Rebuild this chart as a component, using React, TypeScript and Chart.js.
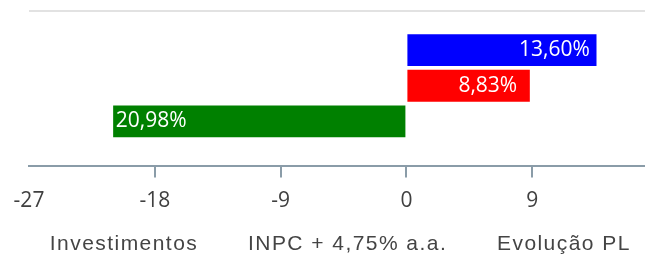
import React, { useEffect, useRef } from 'react';
import { Chart, registerables } from 'chart.js';

Chart.register(...registerables);

// ---- data ----
const categories = [''];
const seriesNames = ['Evolução PL', 'INPC + 4,75% a.a.', 'Investimentos'];
const evolucaoPL = [13.6];
const inpc = [8.83];
const investimentos = [-20.98];
const seriesColors = ['#0000ff', '#ff0000', '#008000'];
const xTickValues = [-27, -18, -9, 0, 9];
const X_MIN = -27;
const X_MAX = 18;

const AXIS_COLOR = '#8a9ca8';
const TEXT_COLOR = '#404040';
const LEGEND_SPACING = '1.45px';

const fmt = (v: number) => Math.abs(v).toFixed(2).replace('.', ',') + '%';

export default function App() {
  const ref = useRef<HTMLCanvasElement>(null);

  useEffect(() => {
    const canvas = ref.current;
    if (!canvas) return;

    const setLS = (c: any, v: string) => {
      (c.ctx as any).letterSpacing = v;
    };

    const spacingPlugin = {
      id: 'legendSpacing',
      beforeLayout: (c: any) => setLS(c, LEGEND_SPACING),
      afterLayout: (c: any) => setLS(c, '0px'),
      beforeDraw: (c: any) => setLS(c, LEGEND_SPACING),
      beforeDatasetsDraw: (c: any) => setLS(c, '0px'),
    };

    const topLinePlugin = {
      id: 'topLine',
      beforeDatasetsDraw(c: any) {
        const { ctx, chartArea } = c;
        ctx.save();
        ctx.strokeStyle = '#e2e2e2';
        ctx.lineWidth = 2;
        const y = chartArea.top + 5;
        ctx.beginPath();
        ctx.moveTo(chartArea.left, y);
        ctx.lineTo(c.width, y);
        ctx.stroke();
        ctx.restore();
      },
    };

    const valueLabelsPlugin = {
      id: 'valueLabels',
      afterDatasetsDraw(c: any) {
        const ctx = c.ctx;
        ctx.save();
        ctx.font = '21px "Open Sans"';
        ctx.fillStyle = '#ffffff';
        ctx.textAlign = 'center';
        ctx.textBaseline = 'middle';
        c.data.datasets.forEach((ds: any, i: number) => {
          const meta = c.getDatasetMeta(i);
          meta.data.forEach((el: any, j: number) => {
            const v = ds.data[j] as number;
            const off = v >= 0 ? 42 : -38;
            ctx.fillText(fmt(v), el.x - off, el.y);
          });
        });
        ctx.restore();
      },
    };

    const chart = new Chart(canvas, {
      type: 'bar',
      data: {
        labels: categories,
        datasets: [
          { label: seriesNames[0], data: evolucaoPL, backgroundColor: seriesColors[0] },
          { label: seriesNames[1], data: inpc, backgroundColor: seriesColors[1] },
          { label: seriesNames[2], data: investimentos, backgroundColor: seriesColors[2] },
        ],
      },
      options: {
        indexAxis: 'y',
        responsive: false,
        animation: false,
        devicePixelRatio: 1,
        datasets: {
          bar: { barPercentage: 0.893, categoryPercentage: 0.67 },
        },
        layout: { padding: { top: 6, right: 22, bottom: 0, left: 0 } },
        scales: {
          x: {
            type: 'linear',
            min: X_MIN,
            max: X_MAX,
            afterBuildTicks: (s: any) => {
              s.ticks = xTickValues.map((v) => ({ value: v }));
            },
            grid: {
              drawOnChartArea: false,
              drawTicks: true,
              tickLength: 12,
              lineWidth: 2,
              color: (ctx: any) => (ctx.tick && ctx.tick.value === X_MIN ? 'rgba(0,0,0,0)' : AXIS_COLOR),
              tickColor: (ctx: any) => (ctx.tick && ctx.tick.value === X_MIN ? 'rgba(0,0,0,0)' : AXIS_COLOR),
            },
            border: { display: true, color: AXIS_COLOR, width: 2 },
            ticks: {
              padding: 11,
              color: TEXT_COLOR,
              font: { family: 'Open Sans', size: 21 },
              z: 1,
            } as any,
          },
          y: {
            type: 'category',
            display: true,
            grid: { display: false },
            border: { display: false },
            ticks: { display: false },
            afterFit: (s: any) => {
              s.width = 29;
            },
          },
        },
        plugins: {
          tooltip: { enabled: false },
          legend: {
            position: 'bottom',
            align: 'start',
            reverse: true,
            labels: {
              boxWidth: 30,
              boxHeight: 1,
              padding: 9.3,
              color: '#444444',
              font: { family: 'Liberation Sans', size: 21 },
              generateLabels: (c: any) =>
                c.data.datasets.map((ds: any, i: number) => ({
                  text: ds.label,
                  fillStyle: 'rgba(0,0,0,0)',
                  strokeStyle: 'rgba(0,0,0,0)',
                  lineWidth: 0,
                  hidden: false,
                  datasetIndex: i,
                  fontColor: '#444444',
                })),
            },
          },
        },
      },
      plugins: [spacingPlugin, topLinePlugin, valueLabelsPlugin],
    });

    return () => chart.destroy();
  }, []);

  return (
    <div
      style={{
        position: 'fixed',
        left: 0,
        top: 0,
        width: 645,
        height: 255,
        overflow: 'hidden',
        background: '#ffffff',
      }}
    >
      <canvas ref={ref} width={680} height={265} style={{ display: 'block' }} />
    </div>
  );
}
